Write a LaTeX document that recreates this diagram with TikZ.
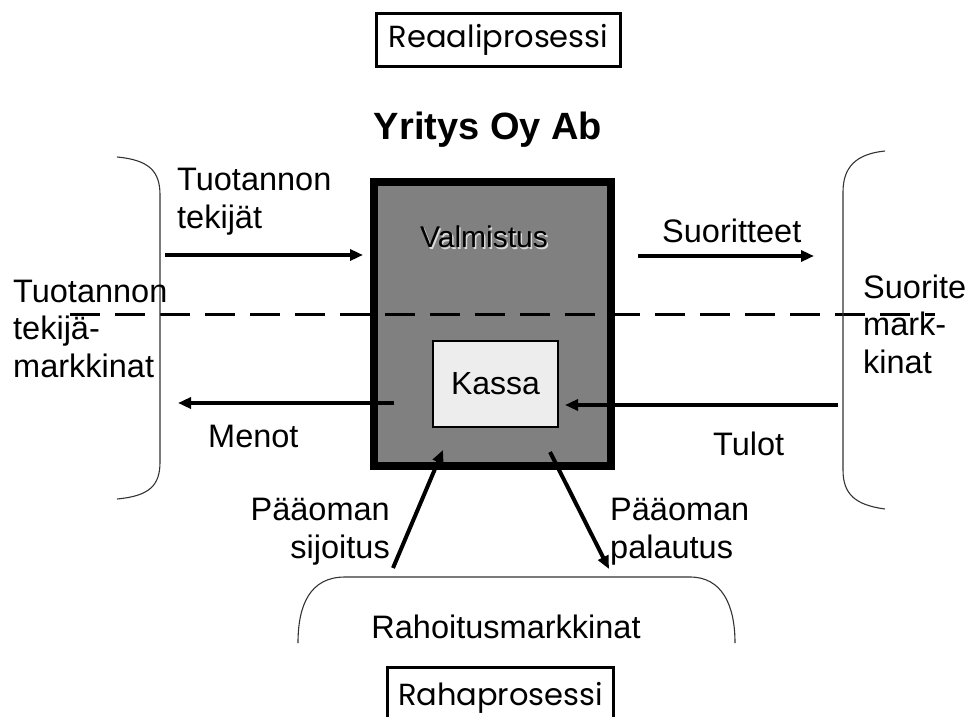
\documentclass[tikz,border=0pt]{standalone}
\usepackage{fontspec}
\setmainfont{Liberation Sans}
\newfontfamily\procfont{Poppins}
\usetikzlibrary{arrows.meta}
\begin{document}
\begin{tikzpicture}[x=1pt,y=-1pt,
  lbl/.style={inner sep=0pt,font=\fontsize{32.5}{37.5}\selectfont,align=left},
  flow/.style={line width=4pt,-{Triangle[length=13pt,width=11pt]}},
  market/.style={line width=1.1pt,draw=black!80},
  procbox/.style={draw,line width=3pt,inner xsep=10pt,inner ysep=6pt,
    font=\procfont\fontsize{30.5}{32}\selectfont}]
\useasboundingbox (0,0) rectangle (974,717);
\begin{scope}
\clip (0,0) rectangle (974,717);

% process labels
\node[procbox,minimum width=244pt,minimum height=53pt] (real) at (498.5,40) {Reaaliprosessi};
\node[procbox,minimum width=226pt,minimum height=60pt,anchor=north] (money) at (500.5,666) {Rahaprosessi};

% firm
\node[inner sep=0pt,font=\bfseries\fontsize{38}{40}\selectfont] (firm) at (488,130) {Yritys Oy Ab};
\node[draw,line width=8pt,fill=black!50,minimum width=237pt,minimum height=284pt,inner sep=0pt] (box) at (492.5,324) {};
\node[inner sep=0pt,font=\fontsize{30}{32}\selectfont,text=white!85!black] at (485.5,238.5) {Valmistus};
\node[inner sep=0pt,font=\fontsize{30}{32}\selectfont] (valm) at (484,237) {Valmistus};

% boundary between the real and the money process
\coordinate (dl) at (70,314);
\coordinate (dr) at (935,314);
\draw[line width=3pt,dash pattern=on 30pt off 15pt] (dl) -- (dr);

\node[draw,line width=2pt,fill=black!7,minimum width=125pt,minimum height=86pt,inner sep=0pt,font=\fontsize{32}{34}\selectfont] (kassa) at (495.5,384) {Kassa};

% markets
\draw[market] (117,157) .. controls (150,160) and (160,172) .. (160,195) -- (160,462) .. controls (160,485) and (150,496) .. (117,499);
\draw[market] (885,151) .. controls (855,154) and (843,168) .. (843,192) -- (843,470) .. controls (843,494) and (855,505) .. (885,509);
\draw[market] (298,643) .. controls (298,605) and (310,577) .. (345,577) -- (690,577) .. controls (722,577) and (735,605) .. (735,643);

% flows
\coordinate (tin0) at (165,255);  \coordinate (tin1) at (363,255);
\coordinate (sout0) at (638,256); \coordinate (sout1) at (814,256);
\coordinate (men0) at (394,403);  \coordinate (men1) at (178,403);
\coordinate (tul0) at (838,405);
\coordinate (sij0) at (393,568);  \coordinate (sij1) at (443,450);
\coordinate (pal0) at (550,452);  \coordinate (pal1) at (609,569);
\draw[flow] (tin0) -- (tin1);
\draw[flow] (sout0) -- (sout1);
\draw[flow] (men0) -- (men1);
\draw[flow] (tul0) -- ([xshift=6pt]kassa.east |- tul0);
\draw[flow] (sij0) -- (sij1);
\draw[flow] (pal0) -- (pal1);

% texts (base anchor of a multi-line node sits on its last line)
\node[lbl,anchor=base west] (t1) at (177,228) {Tuotannon\\tekijät};
\node[lbl,anchor=base west] (t2) at (13,377) {Tuotannon\\tekijä-\\markkinat};
\node[lbl,anchor=base west] (t3) at (208,447) {Menot};
\node[lbl,anchor=base west] (t4) at (662,242) {Suoritteet};
\node[lbl,anchor=base west] (t5) at (863,373) {Suorite\\mark-\\kinat};
\node[lbl,anchor=base west] (t6) at (713,455) {Tulot};
\node[lbl,anchor=base east,align=right] (t7) at (390,558) {Pääoman\\sijoitus};
\node[lbl,anchor=base west] (t8) at (610,558) {Pääoman\\palautus};
\node[lbl,anchor=base] (t9) at (506,638) {Rahoitusmarkkinat};
\end{scope}
\end{tikzpicture}
\end{document}
